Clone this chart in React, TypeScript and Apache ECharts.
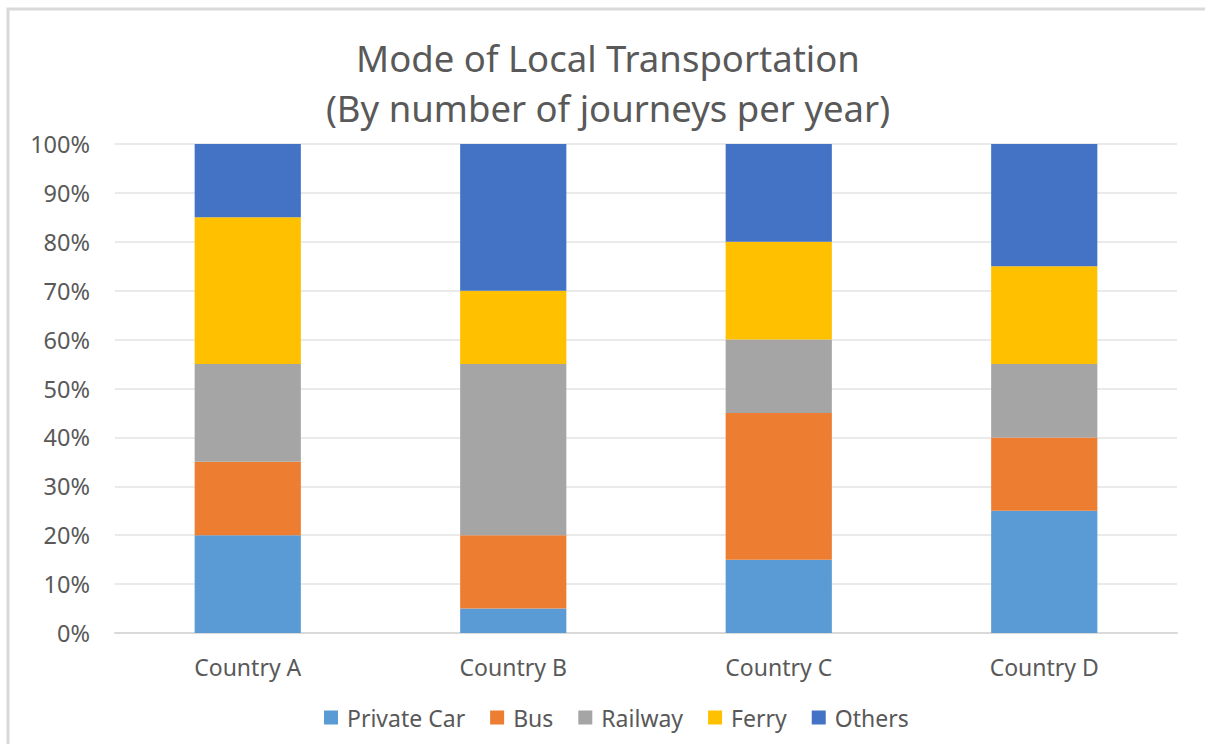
import React, { useEffect, useRef } from "react";
import * as echarts from "echarts";

const categories = ["Country A", "Country B", "Country C", "Country D"];
const privateCar = [20, 5, 15, 25];
const bus = [15, 15, 30, 15];
const railway = [20, 35, 15, 15];
const ferry = [30, 15, 20, 20];
const others = [15, 30, 20, 25];
const yTicks = ["0%", "10%", "20%", "30%", "40%", "50%", "60%", "70%", "80%", "90%", "100%"];

const seriesDefs = [
  { name: "Private Car", data: privateCar, color: "#5B9BD5" },
  { name: "Bus", data: bus, color: "#ED7D31" },
  { name: "Railway", data: railway, color: "#A5A5A5" },
  { name: "Ferry", data: ferry, color: "#FFC000" },
  { name: "Others", data: others, color: "#4472C4" },
];

const FONT = "Noto Sans";

export default function App() {
  const ref = useRef<HTMLDivElement>(null);
  useEffect(() => {
    document.body.style.margin = "0";
    const chart = echarts.init(ref.current!, null, { renderer: "svg" });
    chart.setOption({
      animation: false,
      backgroundColor: "#ffffff",
      textStyle: { fontFamily: FONT },
      title: {
        text: "Mode of Local Transportation\n(By number of journeys per year)",
        left: 603,
        top: 28,
        textAlign: "center",
        textStyle: { fontSize: 36.5, fontWeight: "normal", color: "#595959", lineHeight: 50, fontFamily: FONT },
      },
      legend: {
        top: 701,
        left: 319,
        itemWidth: 14,
        itemHeight: 14,
        itemGap: 25,
        icon: "rect",
        textStyle: { fontSize: 23, color: "#595959", fontFamily: FONT, padding: [0, 0, 0, 4] },
        data: seriesDefs.map((s) => s.name),
      },
      graphic: [
        {
          type: "rect",
          shape: { x: 8, y: 9, width: 1400, height: 900 },
          style: { fill: "none", stroke: "#d9d9d9", lineWidth: 3 },
          silent: true,
        },
      ],
      grid: { left: 115, right: 28, top: 144, bottom: 111 },
      xAxis: {
        type: "category",
        data: categories,
        axisLine: { lineStyle: { color: "#d9d9d9", width: 2 } },
        axisTick: { show: false },
        axisLabel: { fontSize: 23, color: "#595959", margin: 22, fontFamily: FONT },
      },
      yAxis: {
        type: "value",
        min: 0,
        max: 100,
        interval: 10,
        axisLine: { show: false },
        axisTick: { show: false },
        splitLine: { lineStyle: { color: "#e3e3e3", width: 1.5 } },
        axisLabel: {
          fontSize: 23.5,
          color: "#595959",
          margin: 25,
          fontFamily: FONT,
          formatter: (v: number) => yTicks[Math.round(v / 10)],
        },
      },
      series: seriesDefs.map((s) => ({
        name: s.name,
        type: "bar",
        stack: "total",
        barWidth: "40%",
        data: s.data,
        itemStyle: { color: s.color },
      })),
    });
    return () => chart.dispose();
  }, []);
  return <div ref={ref} style={{ width: 1205, height: 744 }} />;
}
